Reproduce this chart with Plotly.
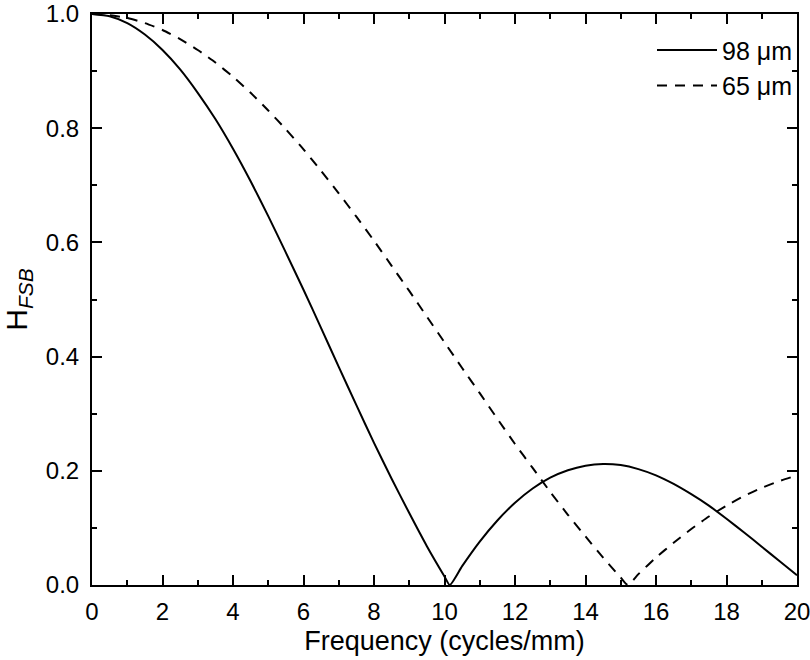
import plotly.graph_objects as go

# Frequency (cycles/mm)
freq_98 = [0, 0.5, 1, 1.5, 2, 2.5, 3, 3.5, 4, 4.5, 5, 5.5, 6, 6.5, 7, 7.5, 8, 8.5, 9, 9.5,
           10, 10.15, 10.5, 11, 11.5, 12, 12.5, 13, 13.5, 14, 14.5, 15, 15.5, 16, 16.5,
           17, 17.5, 18, 18.5, 19, 19.5, 20]
h_98 = [1.0, 0.996, 0.984, 0.964, 0.937, 0.903, 0.862, 0.816, 0.764, 0.707, 0.646, 0.582,
        0.517, 0.450, 0.382, 0.315, 0.249, 0.186, 0.126, 0.068,
        0.015, 0.0, 0.033, 0.076, 0.113, 0.144, 0.169, 0.188, 0.201, 0.209, 0.212, 0.210,
        0.203, 0.192, 0.177, 0.159, 0.139, 0.116, 0.092, 0.067, 0.042, 0.017]

freq_65 = [0, 0.5, 1, 1.5, 2, 2.5, 3, 3.5, 4, 4.5, 5, 5.5, 6, 6.5, 7, 7.5, 8, 8.5, 9, 9.5,
           10, 10.5, 11, 11.5, 12, 12.5, 13, 13.5, 14, 14.5, 15, 15.2, 15.5, 16, 16.5,
           17, 17.5, 18, 18.5, 19, 19.5, 20]
h_65 = [1.0, 0.998, 0.993, 0.984, 0.972, 0.956, 0.937, 0.915, 0.890, 0.862, 0.831, 0.798,
        0.763, 0.725, 0.686, 0.645, 0.603, 0.559, 0.515, 0.470,
        0.425, 0.380, 0.336, 0.291, 0.247, 0.205, 0.163, 0.123, 0.085, 0.048, 0.013, 0.0,
        0.019, 0.048, 0.074, 0.098, 0.120, 0.139, 0.156, 0.170, 0.182, 0.192]

series_names = ["98 μm", "65 μm"]
x_ticks = [0, 2, 4, 6, 8, 10, 12, 14, 16, 18, 20]
y_ticks = [0.0, 0.2, 0.4, 0.6, 0.8, 1.0]

fig = go.Figure()
fig.add_trace(go.Scatter(x=freq_98, y=h_98, mode="lines", name=series_names[0],
                         line=dict(color="black", width=2, shape="spline", smoothing=0.6)))
fig.add_trace(go.Scatter(x=freq_65, y=h_65, mode="lines", name=series_names[1],
                         line=dict(color="black", width=2, dash="10px,8px", shape="spline", smoothing=0.6)))

font_family = "Liberation Sans, Arial, sans-serif"
axis_common = dict(
    showline=True, linecolor="black", linewidth=2, mirror="ticks",
    ticks="inside", ticklen=10, tickwidth=2, tickcolor="black",
    showgrid=False, zeroline=False, automargin=False,
    ticklabeloverflow="allow",
    tickfont=dict(family=font_family, size=24, color="black"),
)

fig.update_xaxes(range=[0, 20], tickvals=x_ticks, ticktext=[str(v) for v in x_ticks],
                 minor=dict(dtick=1, ticks="inside", ticklen=5, tickwidth=2, tickcolor="black"),
                 ticklabelstandoff=4,
                 title=dict(text="Frequency (cycles/mm)", font=dict(family=font_family, size=27, color="black"), standoff=7),
                 **axis_common)
fig.update_yaxes(range=[0, 1.0], tickvals=y_ticks, ticktext=[f"{v:.1f}" for v in y_ticks],
                 minor=dict(dtick=0.1, ticks="inside", ticklen=5, tickwidth=2, tickcolor="black"),
                 ticklabelstandoff=6,
                 title=dict(text="H<sub><i>FSB</i></sub>", font=dict(family=font_family, size=30, color="black"), standoff=16),
                 **axis_common)

fig.update_layout(
    width=810, height=660,
    margin=dict(l=92, r=13, t=14, b=75),
    paper_bgcolor="white", plot_bgcolor="white",
    font=dict(family=font_family, color="black"),
    legend=dict(x=1.0, y=0.977, xanchor="right", yanchor="top",
                bgcolor="rgba(0,0,0,0)", font=dict(family=font_family, size=25, color="black"),
                itemwidth=60, tracegroupgap=0),
)

fig.write_html("out.html",
               config={"displayModeBar": False},
               post_script="document.body.style.margin='0';document.body.style.padding='0';document.body.style.overflow='hidden';")
